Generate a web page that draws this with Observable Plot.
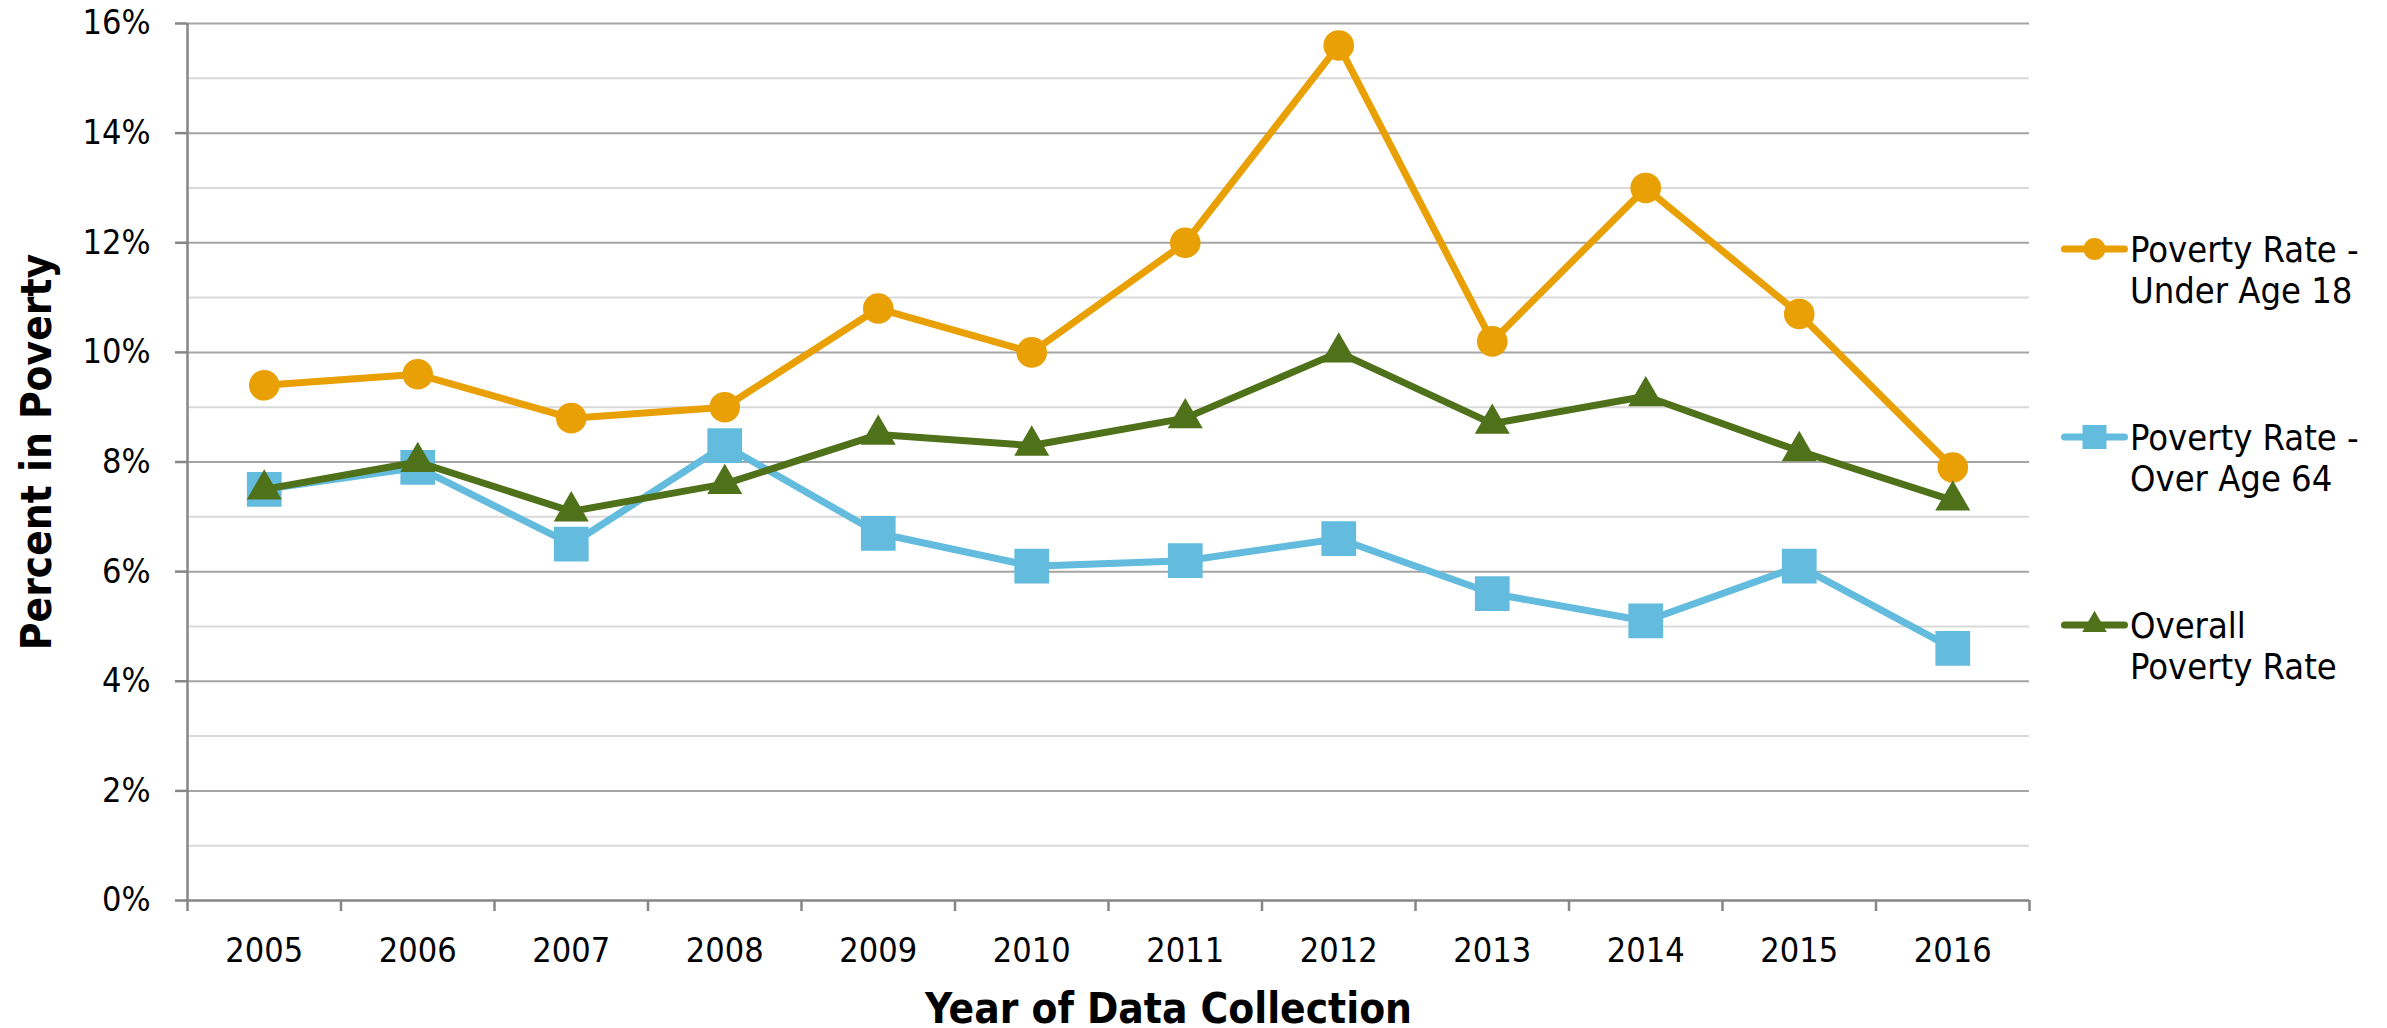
<!DOCTYPE html>
<html><head><meta charset="utf-8">
<script src="https://cdn.jsdelivr.net/npm/d3@7"></script>
<script src="https://cdn.jsdelivr.net/npm/@observablehq/plot@0.6"></script>
<style>
body{margin:0;background:#fff;}
#wrap{position:relative;width:2387px;height:1028px;font-family:'DejaVu Sans Condensed','DejaVu Sans',sans-serif;}
#legend{position:absolute;left:2061px;top:229px;}
.entry{display:flex;align-items:flex-start;height:188px;}
.entry svg{flex:none;}
.entry .lab{font-size:36px;line-height:41px;color:#000;margin-left:2px;white-space:nowrap;}
</style></head><body><div id="wrap"></div>
<script>
// ---- data ----
const years = [2005, 2006, 2007, 2008, 2009, 2010, 2011, 2012, 2013, 2014, 2015, 2016];
const under18 = [9.4, 9.6, 8.8, 9.0, 10.8, 10.0, 12.0, 15.6, 10.2, 13.0, 10.7, 7.9];
const over64  = [7.5, 7.9, 6.5, 8.3, 6.7, 6.1, 6.2, 6.6, 5.6, 5.1, 6.1, 4.6];
const overall = [7.5, 8.0, 7.1, 7.6, 8.5, 8.3, 8.8, 10.0, 8.7, 9.2, 8.2, 7.3];
const seriesNames = [["Poverty Rate -", "Under Age 18"], ["Poverty Rate -", "Over Age 64"], ["Overall", "Poverty Rate"]];
const majorTicks = [0, 2, 4, 6, 8, 10, 12, 14, 16];
const minorTicks = [1, 3, 5, 7, 9, 11, 13, 15];
const xTitle = "Year of Data Collection";
const yTitle = "Percent in Poverty";

// ---- styles ----
const colors = ["#E8A004", "#63BBDE", "#4F7119"];
const symbols = ["circle", "square", "triangle"];
const radii = [15.3, 19.6, 13];
const axisGray = "#868686";

const seriesValues = [under18, over64, overall];
const rows = seriesValues.flatMap((vals, s) => years.map((yr, i) => ({series: s, year: yr, value: vals[i]})));
const boundaries = [years[0] - 0.5, ...years.map(y => y + 0.5)];

const seriesMarks = seriesValues.flatMap((_, s) => {
  const d = rows.filter(r => r.series === s);
  return [
    Plot.line(d, {x: "year", y: "value", stroke: colors[s], strokeWidth: 7, strokeLinejoin: "round", strokeLinecap: "round"}),
    Plot.dot(d, {x: "year", y: "value", fill: colors[s], stroke: "none", symbol: symbols[s], r: radii[s]})
  ];
});

const chart = Plot.plot({
  width: 2387, height: 1028,
  marginLeft: 187, marginRight: 358, marginTop: 23, marginBottom: 128,
  x: {domain: [boundaries[0], boundaries[boundaries.length - 1]], label: null},
  y: {domain: [0, 16], label: null},
  style: {fontFamily: "'DejaVu Sans Condensed','DejaVu Sans',sans-serif", fontSize: "34px", color: "#000", background: "transparent", overflow: "visible"},
  marks: [
    Plot.ruleY(minorTicks, {stroke: "#d9d9d9", strokeWidth: 2}),
    Plot.ruleY(majorTicks.filter(d => d > 0), {stroke: "#a5a5a5", strokeWidth: 2}),
    Plot.axisY({ticks: majorTicks, tickFormat: d => d + "%", tickSize: 12, tickPadding: 25, stroke: axisGray, strokeWidth: 2.5, fill: "#000", fontSize: 34}),
    Plot.axisX({ticks: boundaries, tickFormat: () => "", tickSize: 11, stroke: axisGray, strokeWidth: 2.5}),
    Plot.axisX({ticks: years, tickFormat: d => String(d), tickSize: 0, tickPadding: 37, fill: "#000", fontSize: 34}),
    Plot.ruleX([boundaries[0]], {stroke: axisGray, strokeWidth: 2.5}),
    Plot.ruleY([0], {stroke: axisGray, strokeWidth: 2.5}),
    ...seriesMarks,
    Plot.text([xTitle], {frameAnchor: "bottom", lineAnchor: "bottom", textAnchor: "middle", dy: 122, dx: 60, fontWeight: "bold", fontSize: 42, fill: "#000"}),
    Plot.text([yTitle], {frameAnchor: "left", rotate: -90, lineAnchor: "bottom", textAnchor: "middle", dx: -137, dy: -10, fontWeight: "bold", fontSize: 42, fill: "#000"})
  ]
});

const wrap = document.getElementById("wrap");
wrap.appendChild(chart);

// ---- legend ----
const legend = document.createElement("div");
legend.id = "legend";
const ns = "http://www.w3.org/2000/svg";
seriesNames.forEach((lines, s) => {
  const entry = document.createElement("div");
  entry.className = "entry";
  const svg = document.createElementNS(ns, "svg");
  svg.setAttribute("width", 67); svg.setAttribute("height", 41);
  const ln = document.createElementNS(ns, "line");
  ln.setAttribute("x1", 3.5); ln.setAttribute("x2", 63.5); ln.setAttribute("y1", 20); ln.setAttribute("y2", 20);
  ln.setAttribute("stroke", colors[s]); ln.setAttribute("stroke-width", 7); ln.setAttribute("stroke-linecap", "round");
  svg.appendChild(ln);
  const sym = document.createElementNS(ns, "path");
  const symType = {circle: d3.symbolCircle, square: d3.symbolSquare, triangle: d3.symbolTriangle}[symbols[s]];
  const sizes = {circle: Math.PI * 11 * 11, square: 24 * 24, triangle: 260};
  sym.setAttribute("d", d3.symbol(symType, sizes[symbols[s]])());
  sym.setAttribute("transform", "translate(33.5,20)");
  sym.setAttribute("fill", colors[s]);
  svg.appendChild(sym);
  entry.appendChild(svg);
  const lab = document.createElement("div");
  lab.className = "lab";
  lab.innerHTML = lines.join("<br>");
  entry.appendChild(lab);
  legend.appendChild(entry);
});
wrap.appendChild(legend);
</script>
</body></html>
